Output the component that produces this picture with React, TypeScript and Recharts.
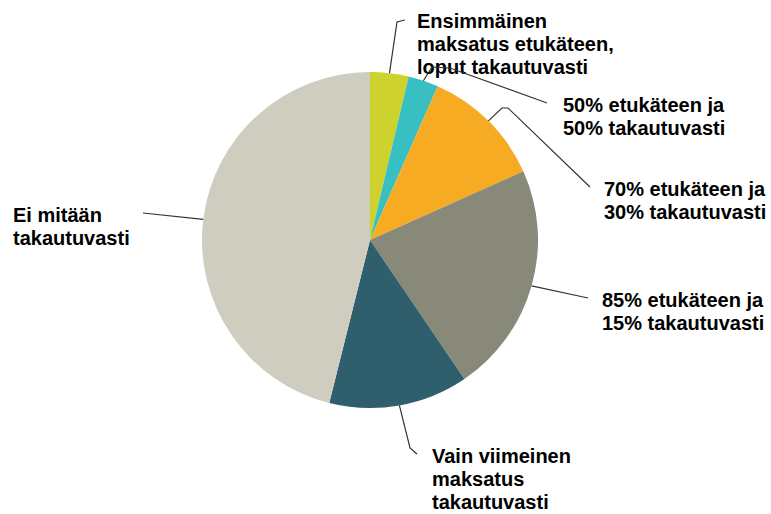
import { PieChart, Pie, Cell } from 'recharts'

const categories = [
  ['Ensimmäinen', 'maksatus etukäteen,', 'loput takautuvasti'],
  ['50% etukäteen ja', '50% takautuvasti'],
  ['70% etukäteen ja', '30% takautuvasti'],
  ['85% etukäteen ja', '15% takautuvasti'],
  ['Vain viimeinen', 'maksatus', 'takautuvasti'],
  ['Ei mitään', 'takautuvasti'],
]
const shares = [3.7, 2.9, 11.7, 22.2, 13.4, 46.1]
const COLORS = ['#cdd32c', '#37bfc1', '#f6ab22', '#888978', '#2f5f6d', '#cfcdbf']

// leader line bends and text anchors, relative to pie centre
const LAYOUT = [
  { pts: [[27, -218], [35, -220]], tx: 47, ty: -212 },
  { pts: [[62, -173], [80, -172], [177, -137]], tx: 193, ty: -128 },
  { pts: [[132, -132], [138, -132], [220, -53]], tx: 234, ty: -44 },
  { pts: [[218, 58]], tx: 232, ty: 67 },
  { pts: [[40, 208], [47, 214]], tx: 62, ty: 223 },
  { pts: [[-227, -27]], tx: -357, ty: -18 },
]

const data = categories.map((lines, i) => ({ name: lines.join(' '), value: shares[i] }))

const RADIAN = Math.PI / 180

function renderLabel(props: any) {
  const { cx, cy, midAngle, outerRadius, index } = props
  const sx = cx + outerRadius * Math.cos(-midAngle * RADIAN)
  const sy = cy + outerRadius * Math.sin(-midAngle * RADIAN)
  const cfg = LAYOUT[index]
  const d = [`M${sx},${sy}`, ...cfg.pts.map(([x, y]) => `L${cx + x},${cy + y}`)].join(' ')
  const lines = categories[index]
  return (
    <g key={index}>
      <path d={d} fill="none" stroke="#333" strokeWidth={1.2} />
      <text
        x={cx + cfg.tx}
        y={cy + cfg.ty}
        textAnchor="start"
        fill="#000"
        fontFamily="'Liberation Sans', Arial, sans-serif"
        fontWeight="bold"
        fontSize={20}
      >
        {lines.map((l, j) => (
          <tspan key={j} x={cx + cfg.tx} dy={j === 0 ? 0 : 23}>
            {l}
          </tspan>
        ))}
      </text>
    </g>
  )
}

export default function App() {
  return (
    <div style={{ position: 'absolute', left: 0, top: 0, background: '#fff' }}>
      <PieChart width={771} height={514} margin={{ top: 0, right: 0, bottom: 0, left: 0 }}>
        <Pie
          data={data}
          cx={370}
          cy={240}
          outerRadius={168}
          startAngle={90}
          endAngle={-270}
          dataKey="value"
          stroke="none"
          label={renderLabel}
          labelLine={false}
          isAnimationActive={false}
        >
          {data.map((_, i) => (
            <Cell key={i} fill={COLORS[i]} />
          ))}
        </Pie>
      </PieChart>
    </div>
  )
}
